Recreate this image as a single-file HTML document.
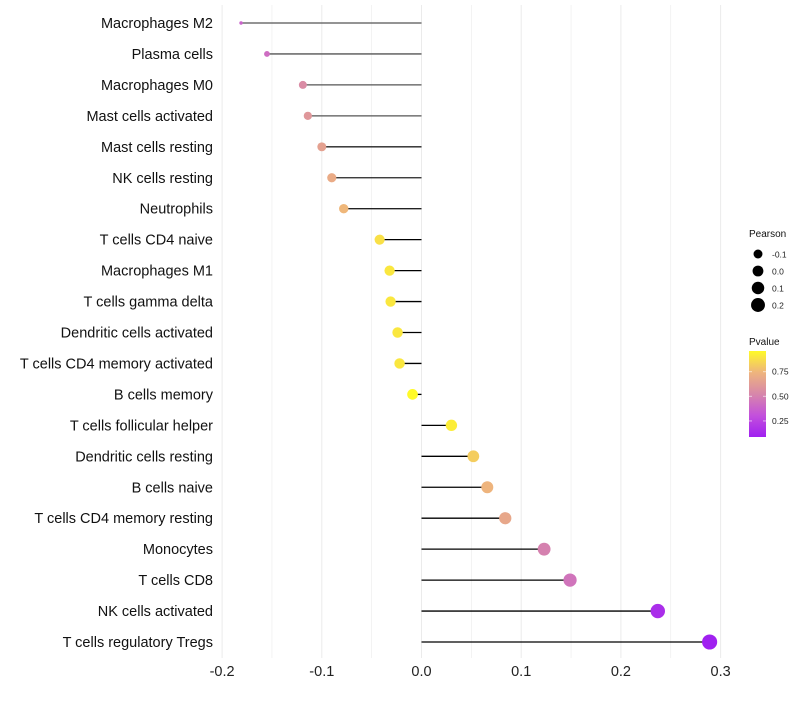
<!DOCTYPE html>
<html><head><meta charset="utf-8"><style>
body{margin:0;background:#fff;font-family:"Liberation Sans",Arial,sans-serif;}
svg text{font-family:"Liberation Sans",Arial,sans-serif;}
</style></head><body>
<svg id="chart" width="800" height="700" xmlns="http://www.w3.org/2000/svg"></svg>
<script>
const categories=["Macrophages M2","Plasma cells","Macrophages M0","Mast cells activated","Mast cells resting","NK cells resting","Neutrophils","T cells CD4 naive","Macrophages M1","T cells gamma delta","Dendritic cells activated","T cells CD4 memory activated","B cells memory","T cells follicular helper","Dendritic cells resting","B cells naive","T cells CD4 memory resting","Monocytes","T cells CD8","NK cells activated","T cells regulatory  Tregs "];
const pearson=[-0.181,-0.155,-0.119,-0.114,-0.100,-0.090,-0.078,-0.042,-0.032,-0.031,-0.024,-0.022,-0.009,0.030,0.052,0.066,0.084,0.123,0.149,0.237,0.289];
const pvalues=[0.38,0.42,0.55,0.6,0.65,0.7,0.75,0.88,0.9,0.9,0.9,0.9,0.96,0.92,0.82,0.74,0.68,0.5,0.45,0.15,0.09];
const xTicks=[-0.2,-0.1,0.0,0.1,0.2,0.3];
const xTickLabels=["-0.2","-0.1","0.0","0.1","0.2","0.3"];
const sizeLegend=[-0.1,0.0,0.1,0.2];
const pTicks=[0.25,0.5,0.75];

const svg=document.getElementById('chart');
const NS="http://www.w3.org/2000/svg";
function mk(tag,attrs,parent){const e=document.createElementNS(NS,tag);for(const k in attrs)e.setAttribute(k,attrs[k]);(parent||svg).appendChild(e);return e;}
const x=v=>421.5+v*997;
const y=i=>23+i*30.95;
const pMin=0.087,pMax=0.96;
const py=p=>437-(p-pMin)/(pMax-pMin)*86;
const stops=[[0,[160,32,240]],[0.25,[195,80,220]],[0.5,[215,135,170]],[0.75,[238,180,125]],[1,[255,250,40]]];
function col(p){let t=Math.max(0,Math.min(1,(p-pMin)/(pMax-pMin)));for(let k=1;k<stops.length;k++){if(t<=stops[k][0]){const a=stops[k-1],b=stops[k];const f=(t-a[0])/(b[0]-a[0]);const c=a[1].map((v,j)=>Math.round(v+(b[1][j]-v)*f));return `rgb(${c})`;}}return 'rgb(255,250,40)';}
function rad(v){let a2;if(v<-0.1){a2=3+(v+0.181)/0.081*17;}else{a2=20+(v+0.1)/0.389*37;}return Math.sqrt(Math.max(2,a2));}

const grid=mk('g',{},svg);


for(let v=-0.2;v<=0.301;v+=0.05){mk('line',{x1:x(v),x2:x(v),y1:5,y2:658,stroke:'#ebebeb','stroke-width':Math.abs(Math.round(v*100))%10===0?1:0.6},grid);}
xTicks.forEach((v,i)=>{const t=mk('text',{x:x(v),y:676,'font-size':14.5,'text-anchor':'middle',fill:'#222'});t.textContent=xTickLabels[i];

});
categories.forEach((c,i)=>{
 const t=mk('text',{x:213,y:y(i)+5,'font-size':14.5,'text-anchor':'end',fill:'#111','xml:space':'preserve'});t.textContent=c;
 
 
 const ln=mk('line',{x1:x(pearson[i]),x2:x(0),y1:y(i),y2:y(i),stroke:i<4?'#555':(i<7?'#222':'#000'),'stroke-width':1.3});
 
 
 const d=mk('circle',{cx:x(pearson[i]),cy:y(i),r:rad(pearson[i]),fill:col(pvalues[i])});
 
 
});
const lt=mk('text',{x:749,y:237,'font-size':10,fill:'#111'});lt.textContent='Pearson';


sizeLegend.forEach((v,i)=>{const cy=254+i*17;
 const c=mk('circle',{cx:758,cy:cy,r:rad(v),fill:'#000'});
 
 
 const t=mk('text',{x:772,y:cy+3.5,'font-size':8.5,fill:'#222'});t.textContent=v.toFixed(1);
 
 });
const ct=mk('text',{x:749,y:345,'font-size':10,fill:'#111'});ct.textContent='Pvalue';


const defs=mk('defs',{});const g=mk('linearGradient',{id:'pg',x1:0,y1:1,x2:0,y2:0},defs);
stops.forEach(s=>mk('stop',{offset:s[0],'stop-color':`rgb(${s[1]})`},g));
const bar=mk('rect',{x:749,y:351,width:17,height:86,fill:'url(#pg)'});


pTicks.forEach(p=>{mk('line',{x1:749,x2:752,y1:py(p),y2:py(p),stroke:'#fff','stroke-opacity':0.6});mk('line',{x1:763,x2:766,y1:py(p),y2:py(p),stroke:'#fff','stroke-opacity':0.6});
 const t=mk('text',{x:772,y:py(p)+3,'font-size':8.5,fill:'#222'});t.textContent=p.toFixed(2);
 
 });
</script>
</body></html>
